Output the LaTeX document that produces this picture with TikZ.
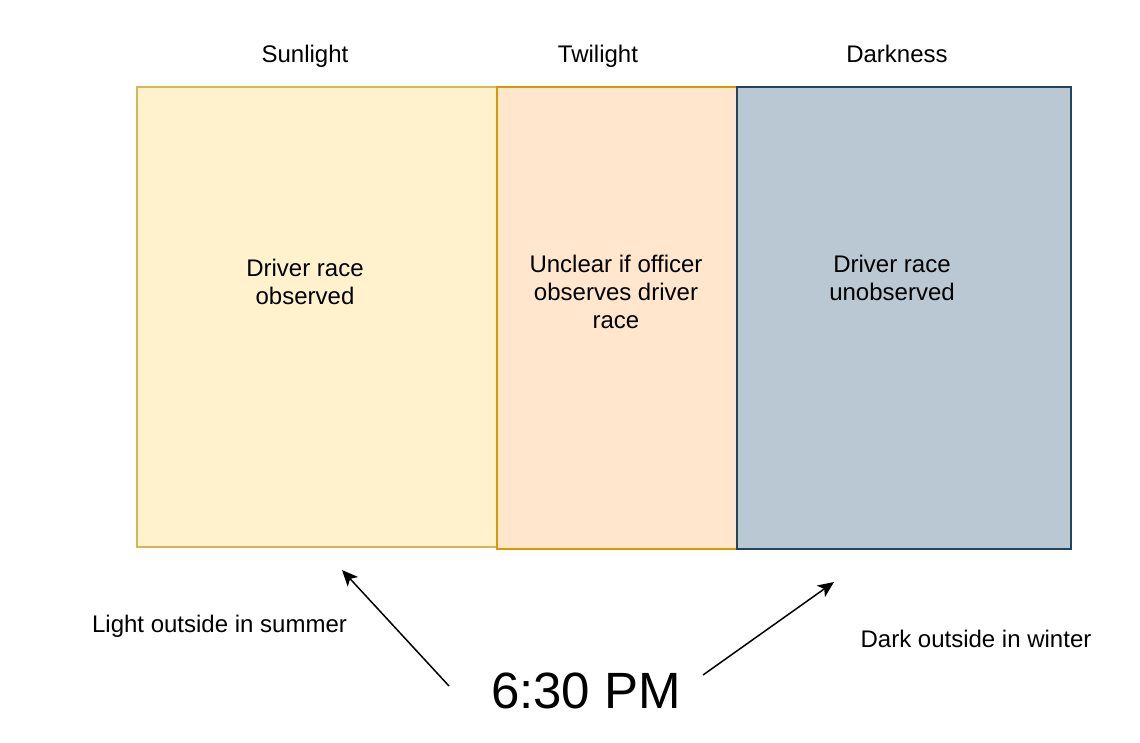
\documentclass[tikz,border=0pt]{standalone}
\usepackage{fontspec}
\setmainfont{Liberation Sans}
\usetikzlibrary{arrows.meta,positioning}
\definecolor{sunfill}{HTML}{FFF2CC}
\definecolor{sundraw}{HTML}{D6B656}
\definecolor{twifill}{HTML}{FFE6CC}
\definecolor{twidraw}{HTML}{D79B00}
\definecolor{darkfill}{HTML}{BAC8D3}
\definecolor{darkdraw}{HTML}{23445D}
\tikzset{
    zone/.style={
    rectangle,line width=1.5pt,inner sep=0pt
    },
    heading/.style={
    font=\fontsize{24}{28}\selectfont,anchor=base,inner sep=0pt
    },
    boxtext/.style={
    font=\fontsize{24}{28}\selectfont,align=center,inner sep=0pt
    },
    pointer/.style={
    line width=1.5pt,-{Stealth[length=16pt,width=14pt,inset=4pt]}
    },
}
\begin{document}
\begin{tikzpicture}[x=1pt,y=-1pt]
  \useasboundingbox (0,0) rectangle (1140,742);
  % the three periods
  \node[zone,fill=sunfill,draw=sundraw,minimum width=360pt,minimum height=460pt] (SUN) at (317,317) {};
  \node[zone,fill=twifill,draw=twidraw,minimum width=240pt,minimum height=462pt] (TWI) at (617,318) {};
  \node[zone,fill=darkfill,draw=darkdraw,minimum width=334pt,minimum height=462pt] (DARK) at (904,318) {};

  \node[heading] (SUNH) at (305,62) {Sunlight};
  \node[heading] (TWIH) at (598,62) {Twilight};
  \node[heading] (DARKH) at (897,62) {Darkness};

  \node[boxtext] (SUNT) at (305,282) {Driver race\\observed};
  \node[boxtext] (TWIT) at (616,292) {Unclear if officer\\observes driver\\race};
  \node[boxtext] (DARKT) at (892,278) {Driver race\\unobserved};

  % time of day
  \node[heading] (SUMMER) at (219.5,632) {Light outside in summer};
  \node[heading] (WINTER) at (976,647) {Dark outside in winter};
  \node[heading,font=\fontsize{51}{60}\selectfont] (TIME) at (586,708) {6:30 PM};

  \coordinate (sumtail) at (449,686);
  \coordinate (sumtip) at (342,570);
  \coordinate (wintail) at (703,675);
  \coordinate (wintip) at (834,582);

  \draw[pointer] (sumtail) -- (sumtip);
  \draw[pointer] (wintail) -- (wintip);
\end{tikzpicture}
\end{document}
